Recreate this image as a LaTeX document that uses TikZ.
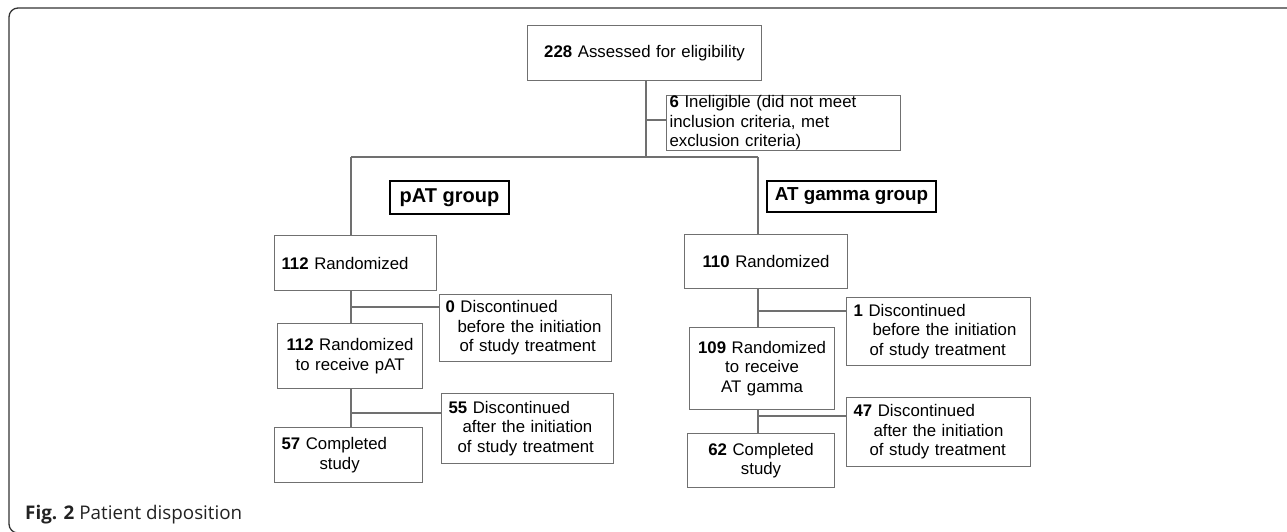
\documentclass[tikz,border=0pt]{standalone}
\usepackage{fontspec}
\setmainfont{Liberation Sans}
\newfontfamily\capfont{Open Sans}
\definecolor{linegray}{HTML}{707070}
\definecolor{framegray}{HTML}{333333}
\definecolor{captext}{HTML}{222222}
\begin{document}
\begin{tikzpicture}[x=1pt,y=-1pt,
  bx/.style={draw=linegray, line width=1.1pt, inner ysep=0pt, anchor=north west,
    font=\fontsize{16.8}{19.5}\selectfont},
  grp/.style={draw=black, line width=2pt, anchor=north west, inner sep=0pt, align=center},
  conn/.style={draw=linegray, line width=1.1pt}]
\useasboundingbox (0,0) rectangle (1287,532);
% frame
\draw[framegray, line width=1.3pt, rounded corners=9pt] (1290,8) -- (9,8) -- (9,533) -- (1290,533);
% boxes
\node[bx, minimum width=234pt, minimum height=55pt, text width=222pt, inner xsep=6pt, align=center] (a) at (527,25) {\textbf{228} Assessed for eligibility};
\node[bx, minimum width=234pt, minimum height=53pt, text width=228pt, inner xsep=3pt, align=left] (inel) at (666,95) {\textbf{6} Ineligible (did not meet\\inclusion criteria, met\\exclusion criteria)};
\node[grp, minimum width=119pt, minimum height=33pt, font=\fontsize{20}{22}\selectfont\bfseries] (pg) at (389,180) {pAT group};
\node[grp, minimum width=169pt, minimum height=31pt, font=\fontsize{18.8}{22}\selectfont\bfseries] (ag) at (766,180) {AT gamma group};
% left column
\node[bx, minimum width=162pt, minimum height=55pt, text width=148pt, inner xsep=7pt, align=left] (r1) at (274,235) {\textbf{112} Randomized};
\node[bx, minimum width=172pt, minimum height=67pt, text width=160pt, inner xsep=6pt, align=left] (d1) at (439,294) {\textbf{0} Discontinued\\\hspace*{12pt}before the initiation\\\hspace*{14pt}of study treatment};
\node[bx, minimum width=145pt, minimum height=65pt, text width=135pt, inner xsep=5pt, align=center] (t1) at (277,323) {\textbf{112} Randomized\\to receive pAT};
\node[bx, minimum width=172pt, minimum height=70pt, text width=158pt, inner xsep=7pt, align=left] (d2) at (441,393) {\textbf{55} Discontinued\\\hspace*{14pt}after the initiation\\\hspace*{9pt}of study treatment};
\node[bx, minimum width=148pt, minimum height=55pt, text width=134pt, inner xsep=7pt, align=left] (c1) at (274,427) {\textbf{57} Completed\\\hspace*{38pt}study};
% right column
\node[bx, minimum width=163pt, minimum height=54pt, text width=151pt, inner xsep=6pt, align=center] (r2) at (684,234) {\textbf{110} Randomized};
\node[bx, minimum width=184pt, minimum height=68pt, text width=170pt, inner xsep=7pt, align=left] (d3) at (846,297) {\textbf{1} Discontinued\\\hspace*{19pt}before the initiation\\\hspace*{16pt}of study treatment};
\node[bx, minimum width=145pt, minimum height=82pt, text width=135pt, inner xsep=5pt, align=center] (t2) at (689,327) {\textbf{109} Randomized\\to receive\\AT gamma};
\node[bx, minimum width=184pt, minimum height=69pt, text width=170pt, inner xsep=7pt, align=left] (d4) at (846,397) {\textbf{47} Discontinued\\\hspace*{20pt}after the initiation\\\hspace*{16pt}of study treatment};
\node[bx, minimum width=147pt, minimum height=54pt, text width=137pt, inner xsep=5pt, align=center] (c2) at (687,433) {\textbf{62} Completed\\study};
% connectors
\coordinate (T) at (646,157);
\coordinate (J0) at (646,120);
\coordinate (L) at (351,157);
\coordinate (R) at (758,157);
\coordinate (J1) at (351,307);
\coordinate (J2) at (351,413);
\coordinate (J3) at (758,311);
\coordinate (J4) at (758,416);
\draw[conn] (T |- a.south) -- (T);
\draw[conn] (J0) -- (J0 -| inel.west);
\draw[conn] (L) -- (R);
\draw[conn] (L) -- (L |- r1.north);
\draw[conn] (R) -- (R |- r2.north);
\draw[conn] (L |- r1.south) -- (L |- t1.north);
\draw[conn] (J1) -- (J1 -| d1.west);
\draw[conn] (L |- t1.south) -- (L |- c1.north);
\draw[conn] (J2) -- (J2 -| d2.west);
\draw[conn] (R |- r2.south) -- (R |- t2.north);
\draw[conn] (J3) -- (J3 -| d3.west);
\draw[conn] (R |- t2.south) -- (R |- c2.north);
\draw[conn] (J4) -- (J4 -| d4.west);
% caption
\node[anchor=base west, text=captext, inner sep=0pt, font=\capfont\fontsize{18.8}{21}\selectfont] (cap) at (25,519) {\textbf{Fig. 2} Patient disposition};
\end{tikzpicture}
\end{document}
